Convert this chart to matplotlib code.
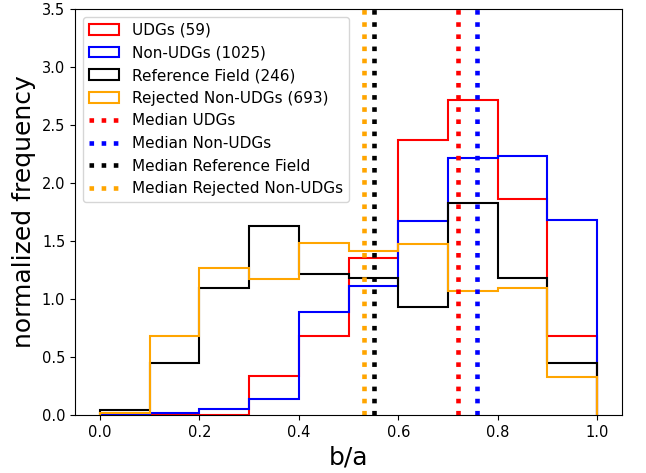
import numpy as np
import matplotlib
matplotlib.use("Agg")
import matplotlib.pyplot as plt

# b/a bins and per-bin counts
bin_edges = [0.0, 0.1, 0.2, 0.3, 0.4, 0.5, 0.6, 0.7, 0.8, 0.9, 1.0]
udg_counts = [0, 0, 0, 2, 4, 8, 14, 16, 11, 4]
nonudg_counts = [0, 2, 5, 14, 91, 114, 171, 227, 229, 172]
ref_counts = [1, 11, 27, 40, 30, 29, 23, 45, 29, 11]
rej_counts = [1, 47, 88, 81, 103, 98, 102, 74, 76, 23]

median_udg = 0.721
median_nonudg = 0.758
median_ref = 0.552
median_rej = 0.532

centers = 0.5 * (np.array(bin_edges[:-1]) + np.array(bin_edges[1:]))

fig = plt.figure(figsize=(6.46, 4.73), dpi=100)
ax = fig.add_axes([75 / 646, 58 / 473, 547 / 646, 406 / 473])

ax.hist(centers, bins=bin_edges, weights=udg_counts, density=True,
        histtype='step', color='red', lw=1.5,
        label='UDGs (%d)' % sum(udg_counts))
ax.hist(centers, bins=bin_edges, weights=nonudg_counts, density=True,
        histtype='step', color='blue', lw=1.5,
        label='Non-UDGs (%d)' % sum(nonudg_counts))
ax.hist(centers, bins=bin_edges, weights=ref_counts, density=True,
        histtype='step', color='black', lw=1.5,
        label='Reference Field (%d)' % sum(ref_counts))
ax.hist(centers, bins=bin_edges, weights=rej_counts, density=True,
        histtype='step', color='orange', lw=1.5,
        label='Rejected Non-UDGs (%d)' % sum(rej_counts))

ax.axvline(median_udg, color='red', ls=':', lw=3.3, label='Median UDGs')
ax.axvline(median_nonudg, color='blue', ls=':', lw=3.3, label='Median Non-UDGs')
ax.axvline(median_ref, color='black', ls=':', lw=3.3, label='Median Reference Field')
ax.axvline(median_rej, color='orange', ls=':', lw=3.3, label='Median Rejected Non-UDGs')

ax.set_xlim(-0.05, 1.05)
ax.set_ylim(0, 3.5)
ax.tick_params(labelsize=10.5)
ax.set_xlabel('b/a', fontsize=18)
ax.set_ylabel('normalized frequency', fontsize=18)
ax.legend(loc='upper left', fontsize=11)

fig.savefig('out.png', dpi=100)
